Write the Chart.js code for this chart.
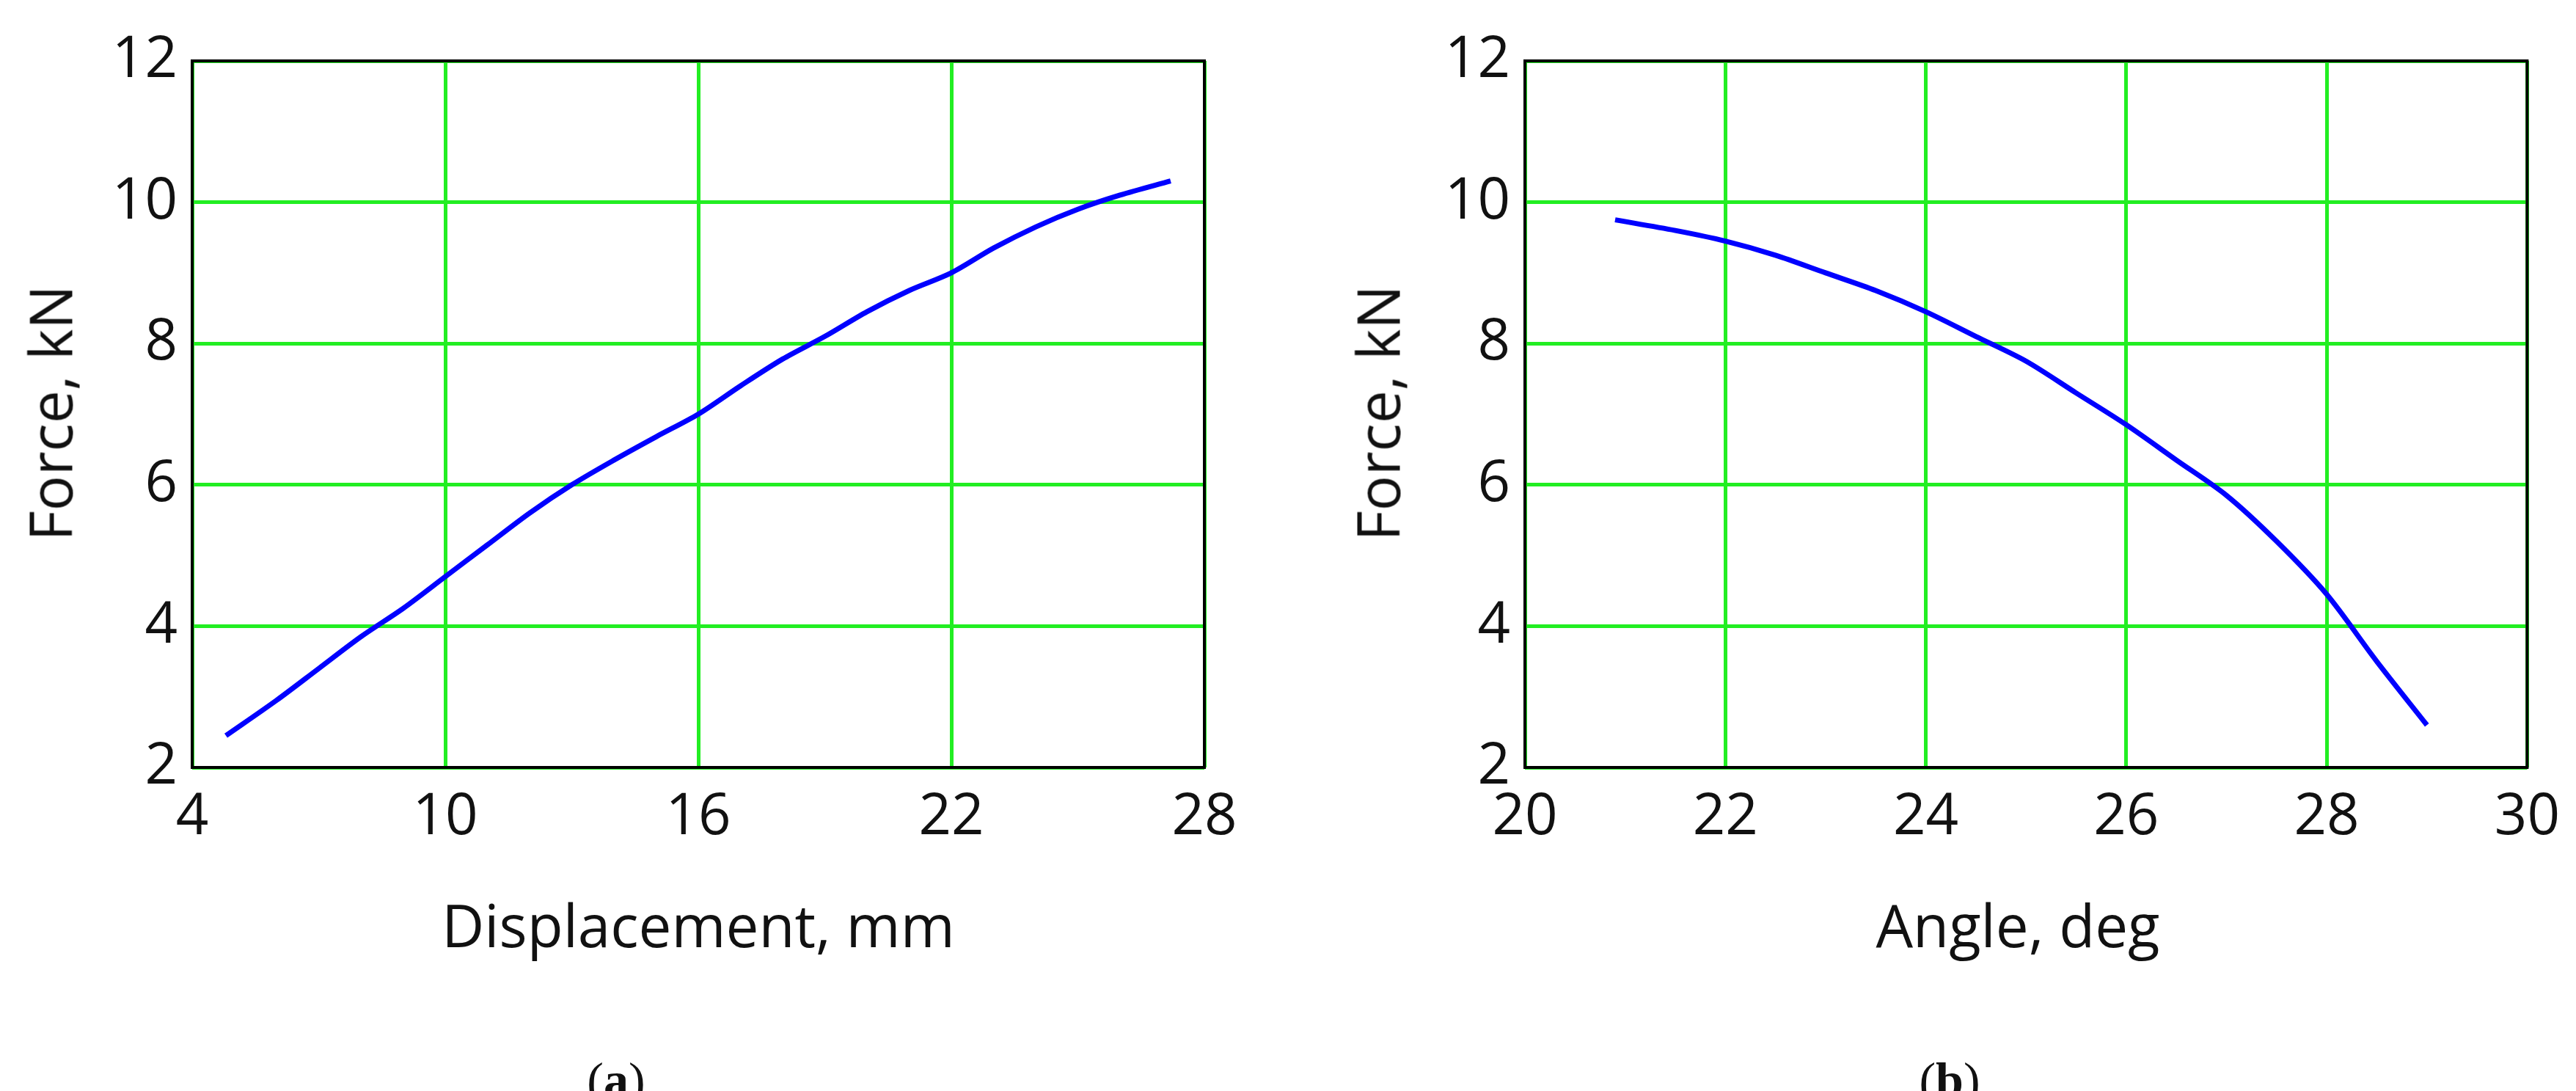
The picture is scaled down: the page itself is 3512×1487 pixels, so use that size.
<!DOCTYPE html>
<html><head><meta charset="utf-8">
<script src="https://cdn.jsdelivr.net/npm/chart.js@4/dist/chart.umd.min.js"></script>
<style>
body{margin:0;background:#fff;width:3512px;height:1487px;position:relative;overflow:hidden;font-family:"Open Sans",sans-serif;color:#111}
.c{position:absolute;top:0;width:1756px;height:1487px}
.t{position:absolute;font-size:80px;white-space:nowrap;transform:translate(-50%,-50%)}
.r{transform:translate(-50%,-50%) rotate(-90deg)}
.cap{position:absolute;font-family:"Liberation Serif",serif;font-size:68px;transform:translate(-50%,-50%)}
</style></head><body>
<div class="c" style="left:0"><canvas id="a"></canvas></div>
<div class="c" style="left:1756px"><canvas id="b"></canvas></div>
<div class="t" style="left:952px;top:1259px">Displacement, mm</div>
<div class="t" style="left:2751px;top:1259px">Angle, deg</div>
<div class="t r" style="left:67px;top:563px">Force, kN</div>
<div class="t r" style="left:1877px;top:563px">Force, kN</div>
<div class="cap" style="left:840px;top:1472px">(<b>a</b>)</div>
<div class="cap" style="left:2658px;top:1472px">(<b>b</b>)</div>
<script>
const dispX=[4.8,6,7,8,9,10,11,12,13,14,15,16,17,18,19,20,21,22,23,24,25,26,27.2];
const forceA=[2.45,2.95,3.4,3.85,4.25,4.7,5.15,5.6,6.0,6.35,6.68,7.0,7.4,7.78,8.1,8.45,8.75,9.0,9.35,9.65,9.9,10.1,10.3];
const angleX=[20.9,21.5,22,22.5,23,23.5,24,24.5,25,25.5,26,26.5,27,27.5,28,28.5,29];
const forceB=[9.75,9.6,9.45,9.25,9.0,8.75,8.45,8.1,7.75,7.3,6.85,6.35,5.85,5.2,4.45,3.5,2.6];
const yTicks=[2,4,6,8,10,12];
const border={id:'bd',afterDraw(c){const a=c.chartArea,x=c.ctx;x.save();x.strokeStyle='#000';x.lineWidth=4;x.strokeRect(a.left,a.top,a.right-a.left,a.bottom-a.top);x.restore();}};
function mk(id,xs,ys,xmin,xmax,xstep,yw,pr){
 new Chart(document.getElementById(id),{type:'scatter',plugins:[border],
 data:{datasets:[{data:xs.map((v,i)=>({x:v,y:ys[i]})),showLine:true,borderColor:'#0000ff',borderWidth:7,pointRadius:0,tension:0.3}]},
 options:{responsive:false,animation:false,devicePixelRatio:1,
  layout:{padding:{top:83,right:pr,left:0,bottom:0}},
  plugins:{legend:{display:false},tooltip:{enabled:false}},
  scales:{
   x:{min:xmin,max:xmax,ticks:{stepSize:xstep,color:'#111',padding:22,font:{family:'Open Sans',size:78}},grid:{color:'#22ee22',lineWidth:5,drawTicks:false},border:{display:false},afterFit(s){s.height=441;}},
   y:{min:2,max:12,afterBuildTicks(s){s.ticks=yTicks.map(v=>({value:v}));},ticks:{color:'#111',padding:20,font:{family:'Open Sans',size:78}},grid:{color:'#22ee22',lineWidth:5,drawTicks:false},border:{display:false},afterFit(s){s.width=yw;}}
  }}});
}
document.getElementById('a').width=1756;document.getElementById('a').height=1487;
document.getElementById('b').width=1756;document.getElementById('b').height=1487;
mk('a',dispX,forceA,4,28,6,262,114);
mk('b',angleX,forceB,20,30,2,323,58);
</script></body></html>
